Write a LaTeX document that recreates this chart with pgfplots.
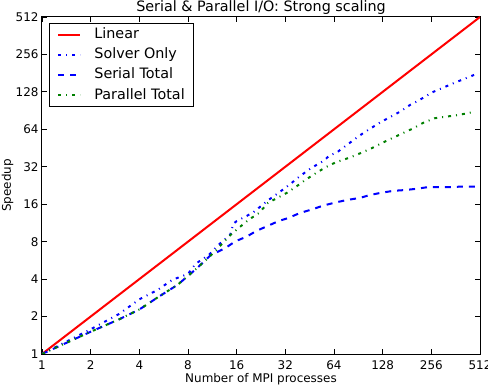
\documentclass[border=0pt]{standalone}
\usepackage{pgfplots}
\pgfplotsset{compat=1.18}
\usepackage{fontspec}
\setmainfont{DejaVu Sans}
\definecolor{mplgreen}{rgb}{0,0.5,0}
\begin{document}
\begin{tikzpicture}
\begin{axis}[
  width=438bp, height=337bp, scale only axis,
  xmode=log, ymode=log, log basis x=2, log basis y=2,
  xmin=1, xmax=512, ymin=1, ymax=512,
  xtick={1,2,4,8,16,32,64,128,256,512},
  ytick={1,2,4,8,16,32,64,128,256,512},
  xticklabels={1,2,4,8,16,32,64,128,256,512},
  yticklabels={1,2,4,8,16,32,64,128,256,512},
  minor xtick={}, minor ytick={},
  tick align=inside, major tick length=5bp,
  tick style={black, line width=0.8bp},
  axis line style={line width=1bp},
  tick label style={font=\fontsize{12}{14}\selectfont},
  xticklabel style={yshift=-3bp},
  label style={font=\fontsize{12}{14}\selectfont},
  xlabel={Number of MPI processes},
  xlabel style={at={(axis description cs:0.5,-0.0831)}, anchor=base},
  ylabel={Speedup},
  ylabel style={at={(axis description cs:-0.0708,0.5)}, anchor=base},
  legend cell align=left,
  legend image code/.code={\draw[#1] (0bp,0bp) -- (22bp,0bp);},
  legend style={at={(0.016,0.982)}, anchor=north west, draw=black, line width=0.8bp,
    font=\fontsize{14.4}{17}\selectfont, inner xsep=8bp, inner ysep=3.3bp,
    nodes={inner sep=1bp, text height=10.5bp, text depth=3bp},
    row sep=4.8bp,
    /tikz/every odd column/.append style={column sep=12bp}},
]
\addplot[red, line width=2bp] coordinates {(1,1) (512,512)};
\addlegendentry{Linear}
\addplot[blue, line width=2bp, dash pattern=on 3bp off 5bp on 1bp off 5bp] coordinates {
(1,1) (2,1.58) (3,2.1) (4,2.75) (5.2,3.28) (6.4,3.95) (8,4.4) (8.9,5.3) (10.8,6.28)
(12.4,7.57) (14.6,9.1) (15.3,11.2) (16,11.7) (20,13.6) (21.3,14.5) (25,17.2) (29,19.7)
(34,23) (39.4,26.9) (46.5,31.4) (55,35.6) (60,39.4) (66.5,41.6) (82,51) (97,59.7)
(123,72.5) (149,83) (164,88.8) (189,100.5) (208,107) (263,128) (350,150) (480,177)};
\addlegendentry{Solver Only}
\addplot[blue, line width=2bp, dash pattern=on 6bp off 6bp] coordinates {
(1,1) (2,1.51) (3,1.9) (4,2.28) (5.3,2.9) (6.9,3.6) (9.1,4.9) (11,6.2) (13.6,7.1)
(15.7,8.05) (18.5,8.8) (21.3,9.8) (24.5,10.6) (29,11.7) (33.4,12.4) (39.4,13.6)
(46.5,14.5) (55,15.6) (65,16.5) (77,17.3) (93,18) (107,19) (126,19.8) (149,20.5)
(176,20.8) (208,21.3) (246,22) (290,22) (342,22) (404,22.2) (480,22.2)};
\addlegendentry{Serial Total}
\addplot[mplgreen, line width=2bp, dash pattern=on 3bp off 5bp on 1bp off 5bp] coordinates {
(1,1) (2,1.51) (3,1.9) (4,2.28) (5.3,2.9) (6.9,3.6) (9.1,4.9) (11.8,6.7) (14.3,8.8)
(16,10) (19,12) (22,13.6) (25,16.4) (32.6,19.7) (37.6,22.3) (43,25.3) (50,28.7)
(57,31.8) (66,34.9) (80,37.9) (93,41.1) (109,45) (126,49.5) (146,54.2) (170,59.5)
(198,65.2) (231,72.9) (269,78.6) (318,81) (375,83.4) (443,87) (480,89)};
\addlegendentry{Parallel Total}
\end{axis}
\node[font=\fontsize{14.4}{17}\selectfont, anchor=base, inner sep=0pt] at ([yshift=5bp]current axis.north) {Serial \& Parallel I/O: Strong scaling};
\pgfresetboundingbox
\path[use as bounding box] ([shift={(-42bp,-32bp)}]current axis.south west) rectangle ([shift={(8bp,17bp)}]current axis.north east);
\end{tikzpicture}
\end{document}
